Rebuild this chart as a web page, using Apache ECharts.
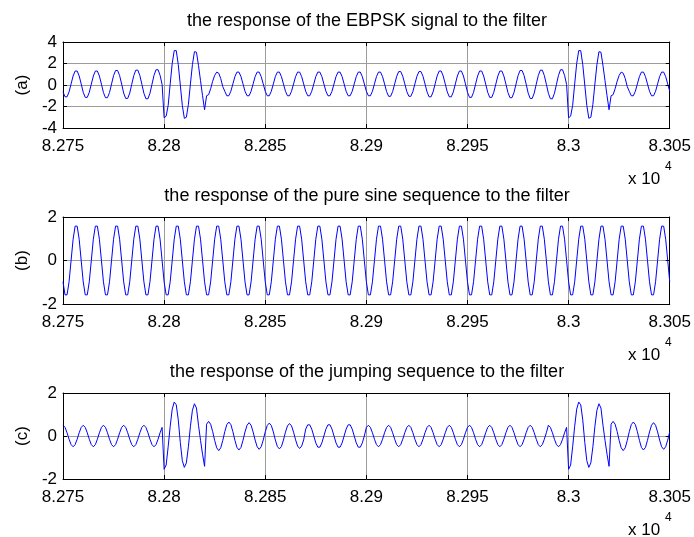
<!DOCTYPE html>
<html>
<head>
<meta charset="utf-8">
<script src="https://cdn.jsdelivr.net/npm/echarts@6/dist/echarts.min.js"></script>
<style>
  html, body { margin: 0; padding: 0; background: #ffffff; }
  #chart { width: 694px; height: 537px; }
</style>
</head>
<body>
<div id="chart"></div>
<script>
// First and last sample index shown on the x axis (axis labels are in units of 10^4)
const sampleStart = 82750;
const sampleEnd = 83050;

// Filter output for the EBPSK-modulated signal
const ebpsk = [
  -0.64,-1.1,-1.1,-0.64,0.1,0.84,1.3,1.3,0.84,0.1,
  -0.68,-1.15,-1.15,-0.68,0.08,0.83,1.3,1.3,0.83,0.08,
  -0.7,-1.18,-1.18,-0.7,0.09,0.87,1.35,1.35,0.87,0.09,
  -0.75,-1.25,-1.25,-0.75,0.07,0.88,1.38,1.38,0.88,0.07,
  -0.77,-1.28,-1.28,-0.77,0.07,0.9,1.42,1.42,0.9,0.05,
  -3.05,-2.9,-1.9,0.1,2.0,3.2,3.2,1.9,0.0,-1.9,
  -3.1,-3.0,-1.8,0.1,1.9,3.1,3.05,1.8,0.4,-1.0,
  -2.3,-1.0,-0.9,-0.35,0.35,0.9,1.2,1.1,0.6,-0.15,
  -0.58,-1.0,-1.0,-0.58,0.1,0.78,1.2,1.2,0.78,0.1,
  -0.58,-1.0,-1.0,-0.58,0.1,0.78,1.2,1.2,0.78,0.1,
  -0.58,-1.0,-1.0,-0.58,0.1,0.78,1.2,1.2,0.78,0.1,
  -0.58,-1.0,-1.0,-0.58,0.1,0.78,1.2,1.2,0.78,0.1,
  -0.58,-1.0,-1.0,-0.58,0.1,0.78,1.2,1.2,0.78,0.1,
  -0.58,-1.0,-1.0,-0.58,0.1,0.78,1.2,1.2,0.78,0.1,
  -0.58,-1.0,-1.0,-0.58,0.1,0.78,1.2,1.2,0.78,0.1,
  -0.58,-1.0,-1.0,-0.58,0.1,0.78,1.2,1.2,0.78,0.1,
  -0.61,-1.05,-1.05,-0.61,0.1,0.81,1.25,1.25,0.81,0.1,
  -0.61,-1.05,-1.05,-0.61,0.1,0.81,1.25,1.25,0.81,0.1,
  -0.64,-1.1,-1.1,-0.64,0.1,0.84,1.3,1.3,0.84,0.1,
  -0.64,-1.1,-1.1,-0.64,0.1,0.84,1.3,1.3,0.84,0.1,
  -0.68,-1.15,-1.15,-0.68,0.08,0.83,1.3,1.3,0.83,0.08,
  -0.68,-1.15,-1.15,-0.68,0.08,0.83,1.3,1.3,0.83,0.08,
  -0.7,-1.18,-1.18,-0.7,0.09,0.87,1.35,1.35,0.87,0.09,
  -0.75,-1.25,-1.25,-0.75,0.07,0.88,1.38,1.38,0.88,0.07,
  -0.77,-1.28,-1.28,-0.77,0.07,0.9,1.42,1.42,0.9,0.05,
  -3.05,-2.9,-1.9,0.1,2.0,3.2,3.2,1.9,0.0,-1.9,
  -3.1,-3.0,-1.8,0.1,1.9,3.1,3.05,1.8,0.4,-1.0,
  -2.3,-1.0,-0.9,-0.35,0.35,0.9,1.2,1.1,0.6,-0.15,
  -0.58,-1.0,-1.0,-0.58,0.1,0.78,1.2,1.2,0.78,0.1,
  -0.58,-1.0,-1.0,-0.58,0.1,0.78,1.2,1.2,0.78,0.1,
  -0.58
];

// Filter output for the pure sine carrier
const pureSine = [
  -0.98,-1.58,-1.58,-0.98,0,0.98,1.58,1.58,0.98,0,
  -0.98,-1.58,-1.58,-0.98,0,0.98,1.58,1.58,0.98,0,
  -0.98,-1.58,-1.58,-0.98,0,0.98,1.58,1.58,0.98,0,
  -0.98,-1.58,-1.58,-0.98,0,0.98,1.58,1.58,0.98,0,
  -0.98,-1.58,-1.58,-0.98,0,0.98,1.58,1.58,0.98,0,
  -0.98,-1.58,-1.58,-0.98,0,0.98,1.58,1.58,0.98,0,
  -0.98,-1.58,-1.58,-0.98,0,0.98,1.58,1.58,0.98,0,
  -0.98,-1.58,-1.58,-0.98,0,0.98,1.58,1.58,0.98,0,
  -0.98,-1.58,-1.58,-0.98,0,0.98,1.58,1.58,0.98,0,
  -0.98,-1.58,-1.58,-0.98,0,0.98,1.58,1.58,0.98,0,
  -0.98,-1.58,-1.58,-0.98,0,0.98,1.58,1.58,0.98,0,
  -0.98,-1.58,-1.58,-0.98,0,0.98,1.58,1.58,0.98,0,
  -0.98,-1.58,-1.58,-0.98,0,0.98,1.58,1.58,0.98,0,
  -0.98,-1.58,-1.58,-0.98,0,0.98,1.58,1.58,0.98,0,
  -0.98,-1.58,-1.58,-0.98,0,0.98,1.58,1.58,0.98,0,
  -0.98,-1.58,-1.58,-0.98,0,0.98,1.58,1.58,0.98,0,
  -0.98,-1.58,-1.58,-0.98,0,0.98,1.58,1.58,0.98,0,
  -0.98,-1.58,-1.58,-0.98,0,0.98,1.58,1.58,0.98,0,
  -0.98,-1.58,-1.58,-0.98,0,0.98,1.58,1.58,0.98,0,
  -0.98,-1.58,-1.58,-0.98,0,0.98,1.58,1.58,0.98,0,
  -0.98,-1.58,-1.58,-0.98,0,0.98,1.58,1.58,0.98,0,
  -0.98,-1.58,-1.58,-0.98,0,0.98,1.58,1.58,0.98,0,
  -0.98,-1.58,-1.58,-0.98,0,0.98,1.58,1.58,0.98,0,
  -0.98,-1.58,-1.58,-0.98,0,0.98,1.58,1.58,0.98,0,
  -0.98,-1.58,-1.58,-0.98,0,0.98,1.58,1.58,0.98,0,
  -0.98,-1.58,-1.58,-0.98,0,0.98,1.58,1.58,0.98,0,
  -0.98,-1.58,-1.58,-0.98,0,0.98,1.58,1.58,0.98,0,
  -0.98,-1.58,-1.58,-0.98,0,0.98,1.58,1.58,0.98,0,
  -0.98,-1.58,-1.58,-0.98,0,0.98,1.58,1.58,0.98,0,
  -0.98,-1.58,-1.58,-0.98,0,0.98,1.58,1.58,0.98,0,
  -0.98
];

// Filter output for the phase-jumping sequence
const jumping = [
  0.5,0.4,0.15,-0.15,-0.4,-0.5,-0.4,-0.15,0.15,0.4,
  0.5,0.4,0.15,-0.15,-0.4,-0.5,-0.4,-0.15,0.15,0.4,
  0.5,0.4,0.15,-0.15,-0.4,-0.5,-0.4,-0.15,0.15,0.4,
  0.5,0.4,0.15,-0.15,-0.4,-0.5,-0.4,-0.15,0.15,0.4,
  0.5,0.4,0.15,-0.15,-0.4,-0.5,-0.4,-0.15,0.15,0.4,
  -1.55,-1.35,-0.5,0.45,1.25,1.58,1.45,0.75,-0.3,-1.15,
  -1.46,-1.25,-0.5,0.45,1.2,1.5,1.3,0.5,-0.2,-0.85,
  -1.41,0.55,0.68,0.55,0.21,-0.21,-0.55,-0.68,-0.55,-0.21,
  0.2,0.53,0.65,0.53,0.2,-0.2,-0.53,-0.65,-0.53,-0.2,
  0.19,0.5,0.62,0.5,0.19,-0.19,-0.5,-0.62,-0.5,-0.19,
  0.19,0.49,0.6,0.49,0.19,-0.19,-0.49,-0.6,-0.49,-0.19,
  0.18,0.47,0.58,0.47,0.18,-0.18,-0.47,-0.58,-0.47,-0.18,
  0.32,0.52,0.52,0.32,0,-0.32,-0.52,-0.52,-0.32,0,
  0.32,0.52,0.52,0.32,0,-0.32,-0.52,-0.52,-0.32,0,
  0.32,0.52,0.52,0.32,0,-0.32,-0.52,-0.52,-0.32,0,
  0.4,0.5,0.4,0.15,-0.15,-0.4,-0.5,-0.4,-0.15,0.15,
  0.4,0.5,0.4,0.15,-0.15,-0.4,-0.5,-0.4,-0.15,0.15,
  0.4,0.5,0.4,0.15,-0.15,-0.4,-0.5,-0.4,-0.15,0.15,
  0.4,0.5,0.4,0.15,-0.15,-0.4,-0.5,-0.4,-0.15,0.15,
  0.4,0.5,0.4,0.15,-0.15,-0.4,-0.5,-0.4,-0.15,0.15,
  0.4,0.5,0.4,0.15,-0.15,-0.4,-0.5,-0.4,-0.15,0.15,
  0.4,0.5,0.4,0.15,-0.15,-0.4,-0.5,-0.4,-0.15,0.15,
  0.4,0.5,0.4,0.15,-0.15,-0.4,-0.5,-0.4,-0.15,0.15,
  0.4,0.5,0.4,0.15,-0.15,-0.4,-0.5,-0.4,-0.15,0.15,
  0.5,0.4,0.15,-0.15,-0.4,-0.5,-0.4,-0.15,0.15,0.4,
  -1.55,-1.35,-0.5,0.45,1.25,1.58,1.45,0.75,-0.3,-1.15,
  -1.46,-1.25,-0.5,0.45,1.2,1.5,1.3,0.5,-0.2,-0.85,
  -1.41,0.55,0.68,0.55,0.21,-0.21,-0.55,-0.68,-0.55,-0.21,
  0.2,0.53,0.65,0.53,0.2,-0.2,-0.53,-0.65,-0.53,-0.2,
  0.19,0.5,0.62,0.5,0.19,-0.19,-0.5,-0.62,-0.5,-0.19,
  0.19
];

const panelTitles = [
  'the response of the EBPSK signal to the filter',
  'the response of the pure sine sequence to the filter',
  'the response of the jumping sequence to the filter'
];
const panelNames = ['(a)', '(b)', '(c)'];
const yLimits = [[-4, 4], [-2, 2], [-2, 2]];
const seriesValues = [ebpsk, pureSine, jumping];

// Layout of the three stacked axes (pixels)
const plotLeft = 63, plotRight = 22;
const plotTops = [42, 217, 393];
const plotHeights = [86, 87, 86];

const FONT = '"Liberation Sans", Arial, Helvetica, sans-serif';
const FS = 17;
const TITLE_FS = 18;
const gridColor = '#9c9c9c';

const chart = echarts.init(document.getElementById('chart'), null, { renderer: 'canvas' });

const grids = [], xAxes = [], yAxes = [], series = [], graphics = [];

for (let p = 0; p < 3; p++) {
  grids.push({ left: plotLeft, right: plotRight, top: plotTops[p], height: plotHeights[p], containLabel: false });

  const xBase = {
    type: 'value', gridIndex: p, min: sampleStart, max: sampleEnd, interval: 50,
    axisLine: { show: true, onZero: false, lineStyle: { color: '#000', width: 1 } },
    axisTick: { show: true, inside: true, length: 4, lineStyle: { color: '#000', width: 1 } }
  };
  // bottom axis with labels and vertical grid
  xAxes.push(Object.assign({}, xBase, {
    position: 'bottom',
    axisLabel: {
      show: true, color: '#000', fontFamily: FONT, fontSize: FS, margin: 10,
      showMinLabel: true, showMaxLabel: true, hideOverlap: false,
      formatter: v => String(v / 10000)
    },
    splitLine: { show: true, lineStyle: { color: gridColor, width: 1, type: 'solid' } }
  }));
  // top frame edge with inward ticks
  xAxes.push(Object.assign({}, xBase, {
    position: 'top', axisLabel: { show: false }, splitLine: { show: false }
  }));

  const [yMin, yMax] = yLimits[p];
  const yBase = {
    type: 'value', gridIndex: p, min: yMin, max: yMax, interval: 2,
    axisLine: { show: true, onZero: false, lineStyle: { color: '#000', width: 1 } },
    axisTick: { show: true, inside: true, length: 4, lineStyle: { color: '#000', width: 1 } }
  };
  yAxes.push(Object.assign({}, yBase, {
    position: 'left',
    name: panelNames[p], nameLocation: 'middle', nameGap: 28, nameRotate: 90,
    nameTextStyle: { color: '#000', fontFamily: FONT, fontSize: FS },
    axisLabel: { show: true, color: '#000', fontFamily: FONT, fontSize: FS, margin: 6,
      showMinLabel: true, showMaxLabel: true },
    splitLine: { show: true, lineStyle: { color: gridColor, width: 1, type: 'solid' } }
  }));
  // right frame edge with inward ticks
  yAxes.push(Object.assign({}, yBase, {
    position: 'right', axisLabel: { show: false }, splitLine: { show: false }
  }));

  series.push({
    type: 'line', xAxisIndex: p * 2, yAxisIndex: p * 2,
    data: seriesValues[p].map((v, i) => [sampleStart + i, v]),
    showSymbol: false, symbol: 'none', smooth: false,
    lineStyle: { color: '#0000ff', width: 1 },
    silent: true, animation: false, z: 5
  });

  const bottom = plotTops[p] + plotHeights[p];
  // panel title
  graphics.push({
    type: 'text', z: 10,
    style: { text: panelTitles[p], x: 367, y: plotTops[p] - 21, fill: '#000',
      font: TITLE_FS + 'px ' + FONT, align: 'center', verticalAlign: 'middle' }
  });
  // axis exponent "x 10^4"
  graphics.push({
    type: 'text', z: 10,
    style: { text: 'x 10', x: 628, y: bottom + 51, fill: '#000',
      font: FS + 'px ' + FONT, align: 'left', verticalAlign: 'middle' }
  });
  graphics.push({
    type: 'text', z: 10,
    style: { text: '4', x: 665, y: bottom + 39, fill: '#000',
      font: '12px ' + FONT, align: 'left', verticalAlign: 'middle' }
  });
}

chart.setOption({
  backgroundColor: '#ffffff',
  animation: false,
  grid: grids,
  xAxis: xAxes,
  yAxis: yAxes,
  series: series,
  graphic: { elements: graphics }
});
</script>
</body>
</html>
